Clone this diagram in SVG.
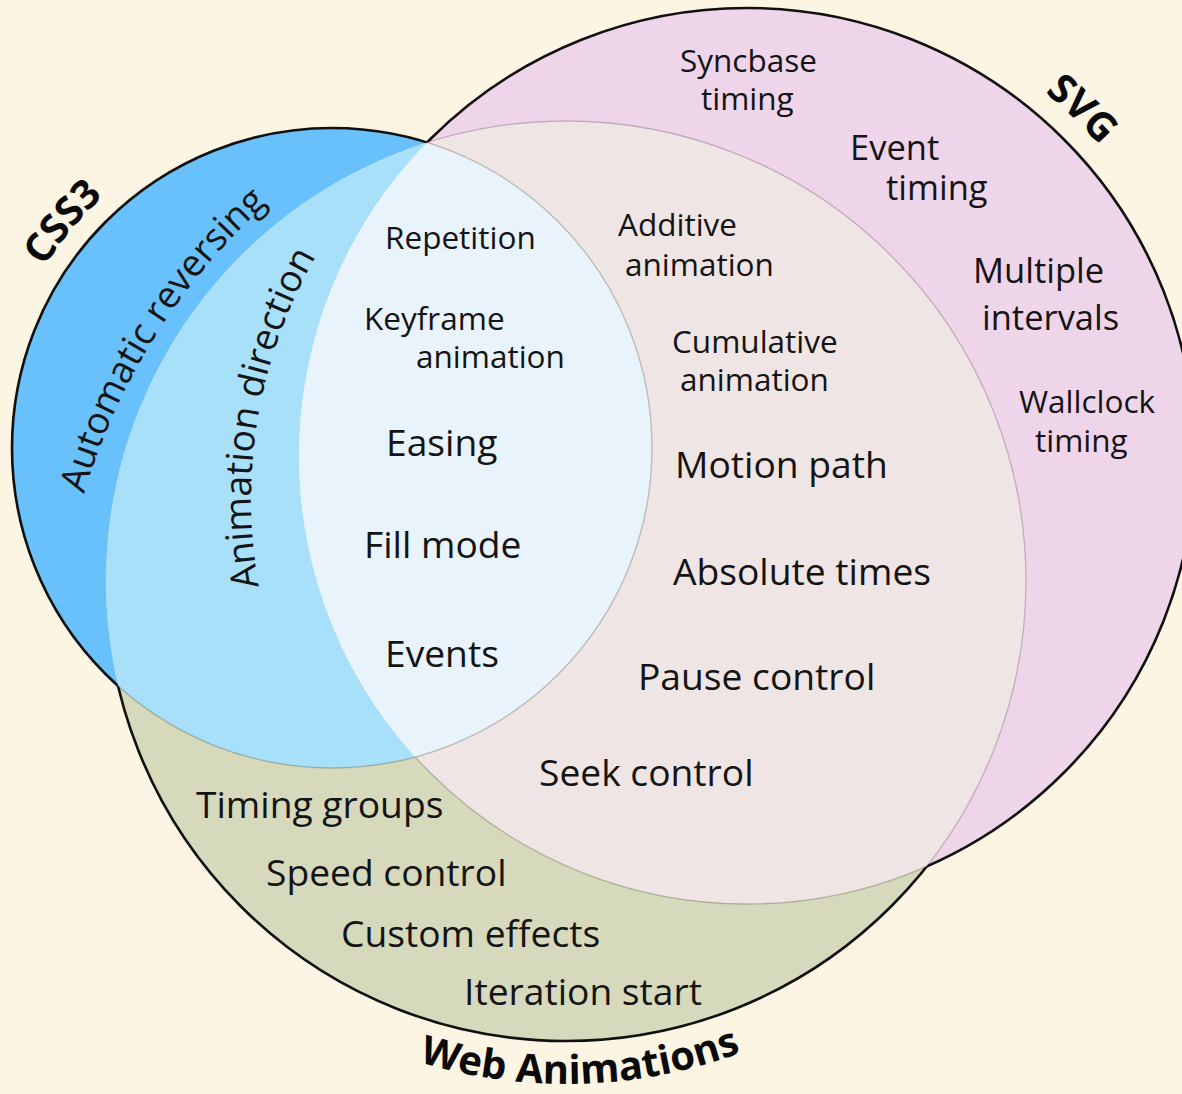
<svg xmlns="http://www.w3.org/2000/svg" xmlns:xlink="http://www.w3.org/1999/xlink" width="1182" height="1094" viewBox="0 0 1182 1094">
  <style>
    .lbl { font-family: "Open Sans", "Noto Sans", "DejaVu Sans", sans-serif; fill: #141414; }
    .s { font-size: 31.5px; }
    .m { font-size: 34.5px; }
    .l { font-size: 37.2px; }
    .title { font-family: "Open Sans", "Noto Sans", "DejaVu Sans", sans-serif; font-weight: 700; font-size: 40px; fill: #0a0a0a; }
    .outline { fill: none; stroke: #111; stroke-width: 2.6; }
    .seam { fill: none; stroke: rgba(60, 55, 30, 0.28); stroke-width: 1.3; }
  </style>
  <defs>
    <!-- the three set circles -->
    <circle id="cCss" cx="332" cy="448" r="320"/>
    <circle id="cSvg" cx="747" cy="456" r="448"/>
    <circle id="cWeb" cx="566" cy="581" r="460"/>
    <clipPath id="clipCss"><use xlink:href="#cCss"/></clipPath>
    <clipPath id="clipSvg"><use xlink:href="#cSvg"/></clipPath>
    <clipPath id="clipWeb"><use xlink:href="#cWeb"/></clipPath>
    <mask id="outsideSvgWeb" maskUnits="userSpaceOnUse" x="0" y="0" width="1182" height="1094">
      <rect width="1182" height="1094" fill="#fff"/>
      <use xlink:href="#cSvg" fill="#000"/>
      <use xlink:href="#cWeb" fill="#000"/>
    </mask>
    <mask id="outsideCssWeb" maskUnits="userSpaceOnUse" x="0" y="0" width="1182" height="1094">
      <rect width="1182" height="1094" fill="#fff"/>
      <use xlink:href="#cCss" fill="#000"/>
      <use xlink:href="#cWeb" fill="#000"/>
    </mask>
    <mask id="outsideCssSvg" maskUnits="userSpaceOnUse" x="0" y="0" width="1182" height="1094">
      <rect width="1182" height="1094" fill="#fff"/>
      <use xlink:href="#cCss" fill="#000"/>
      <use xlink:href="#cSvg" fill="#000"/>
    </mask>
    <mask id="outsideCss" maskUnits="userSpaceOnUse" x="0" y="0" width="1182" height="1094">
      <rect width="1182" height="1094" fill="#fff"/>
      <use xlink:href="#cCss" fill="#000"/>
    </mask>
    <!-- baselines for curved labels -->
    <path id="arcCss3" d="M -8 448 A 340 340 0 0 1 273 113.2"/>
    <path id="arcSvg" d="M 779.8 -12.9 A 470 470 0 0 1 1214.4 406.9"/>
    <path id="arcWeb" d="M 277.5 993 A 503 503 0 0 0 878.4 975.2"/>
    <path id="arcAuto" d="M 74.6 808.9 A 627 627 0 0 1 547.1 58.6"/>
    <path id="arcDir" d="M 340.1 779.7 A 487 487 0 0 1 457.3 101.1"/>
  </defs>

  <rect width="1182" height="1094" fill="#fdf5e3"/>

  <!-- region fills -->
  <g id="regions">
    <use xlink:href="#cCss" fill="#69c1fb"/>
    <use xlink:href="#cSvg" fill="#efd5ea"/>
    <use xlink:href="#cWeb" fill="#d6d9bb"/>
    <g clip-path="url(#clipCss)"><use xlink:href="#cWeb" fill="#a8dff9"/></g>
    <g clip-path="url(#clipSvg)"><use xlink:href="#cWeb" fill="#efe5e4"/></g>
    <g clip-path="url(#clipSvg)"><g clip-path="url(#clipCss)"><use xlink:href="#cWeb" fill="#e8f3fc"/></g></g>
  </g>

  <!-- faint seams between inner regions -->
  <g id="seams">
    <g clip-path="url(#clipSvg)"><use xlink:href="#cWeb" fill="none" stroke="#c2acbc" stroke-width="1.3"/></g>
    <g clip-path="url(#clipWeb)"><use xlink:href="#cCss" class="seam"/></g>
    <g clip-path="url(#clipWeb)"><g mask="url(#outsideCss)"><use xlink:href="#cSvg" class="seam"/></g></g>
  </g>

  <!-- outer outline of the union -->
  <g id="outline">
    <use xlink:href="#cCss" class="outline" mask="url(#outsideSvgWeb)"/>
    <use xlink:href="#cSvg" class="outline" mask="url(#outsideCssWeb)"/>
    <use xlink:href="#cWeb" class="outline" mask="url(#outsideCssSvg)"/>
  </g>

  <!-- CSS3 set -->
  <g id="set-css3">
    <text class="title"><textPath xlink:href="#arcCss3" startOffset="50%" text-anchor="middle">CSS3</textPath></text>
    <text class="lbl l"><textPath xlink:href="#arcAuto" startOffset="50%" text-anchor="middle">Automatic reversing</textPath></text>
  </g>

  <!-- CSS3 and Web Animations -->
  <g id="css3-web">
    <text class="lbl l"><textPath xlink:href="#arcDir" startOffset="50%" text-anchor="middle">Animation direction</textPath></text>
  </g>

  <!-- shared by all three -->
  <g id="all-three">
    <text class="lbl s" x="385" y="249">Repetition</text>
    <text class="lbl s" x="364" y="330">Keyframe</text>
    <text class="lbl s" x="416" y="368">animation</text>
    <text class="lbl l" x="386" y="456">Easing</text>
    <text class="lbl l" x="364" y="558">Fill mode</text>
    <text class="lbl l" x="385" y="667">Events</text>
  </g>

  <!-- SVG and Web Animations -->
  <g id="svg-web">
    <text class="lbl s" x="618" y="236">Additive</text>
    <text class="lbl s" x="625" y="276">animation</text>
    <text class="lbl s" x="672" y="353">Cumulative</text>
    <text class="lbl s" x="680" y="391">animation</text>
    <text class="lbl l" x="675" y="478">Motion path</text>
    <text class="lbl l" x="673" y="585">Absolute times</text>
    <text class="lbl l" x="638" y="690">Pause control</text>
    <text class="lbl l" x="539" y="786">Seek control</text>
  </g>

  <!-- SVG set -->
  <g id="set-svg">
    <text class="title"><textPath xlink:href="#arcSvg" startOffset="50%" text-anchor="middle">SVG</textPath></text>
    <text class="lbl s" x="680" y="72">Syncbase</text>
    <text class="lbl s" x="701" y="110">timing</text>
    <text class="lbl m" x="850" y="160">Event</text>
    <text class="lbl m" x="886" y="200">timing</text>
    <text class="lbl m" x="973" y="283">Multiple</text>
    <text class="lbl m" x="982" y="330">intervals</text>
    <text class="lbl s" x="1019" y="413">Wallclock</text>
    <text class="lbl s" x="1035" y="452">timing</text>
  </g>

  <!-- Web Animations set -->
  <g id="set-web">
    <text class="lbl l" x="196" y="818">Timing groups</text>
    <text class="lbl l" x="266" y="886">Speed control</text>
    <text class="lbl l" x="341" y="947">Custom effects</text>
    <text class="lbl l" x="464" y="1005">Iteration start</text>
    <text class="title"><textPath xlink:href="#arcWeb" startOffset="50%" text-anchor="middle">Web Animations</textPath></text>
  </g>
</svg>
